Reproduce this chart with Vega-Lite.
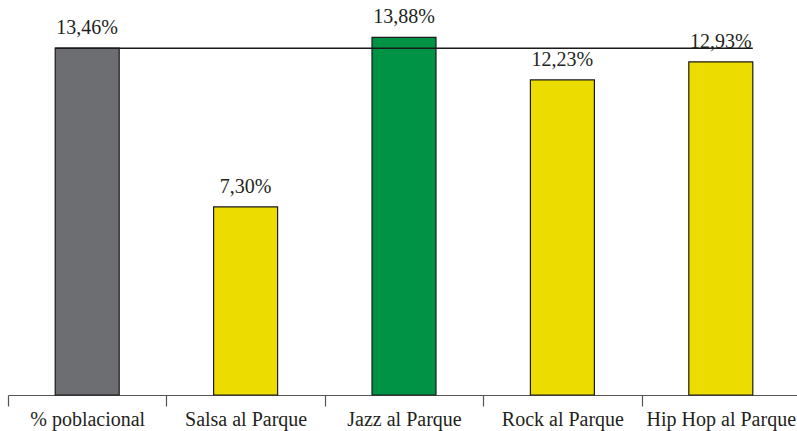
{
  "$schema": "https://vega.github.io/schema/vega-lite/v6.json",
  "width": 789,
  "height": 395,
  "autosize": {"type": "none"},
  "padding": {"left": 8, "top": 0, "right": 0, "bottom": 36},
  "background": "white",
  "config": {"view": {"stroke": null}, "font": "Liberation Serif"},
  "datasets": {
    "bars": [
      {"cat": "% poblacional", "value": 13.46, "label": "13,46%", "group": "pob"},
      {"cat": "Salsa al Parque", "value": 7.30, "label": "7,30%", "group": "other"},
      {"cat": "Jazz al Parque", "value": 13.88, "label": "13,88%", "group": "jazz"},
      {"cat": "Rock al Parque", "value": 12.23, "label": "12,23%", "group": "other"},
      {"cat": "Hip Hop al Parque", "value": 12.93, "label": "12,93%", "group": "other"}
    ],
    "ref": [
      {"start": "% poblacional", "end": "Hip Hop al Parque", "value": 13.46}
    ]
  },
  "layer": [
    {
      "data": {"name": "bars"},
      "mark": {"type": "bar", "width": {"band": 0.404}, "stroke": "#1a1a1a", "strokeWidth": 1.2},
      "encoding": {
        "x": {
          "field": "cat", "type": "nominal", "sort": null,
          "scale": {"domain": ["% poblacional", "Salsa al Parque", "Jazz al Parque", "Rock al Parque", "Hip Hop al Parque"], "paddingInner": 0, "paddingOuter": 0, "range": [0, 792]},
          "axis": {
            "title": null, "labelAngle": 0, "tickBand": "extent",
            "domainColor": "#555555", "tickColor": "#555555", "domainWidth": 1.2, "tickWidth": 1.2,
            "tickSize": 11, "labelPadding": 19, "labelBaseline": "alphabetic",
            "labelFont": "Liberation Serif", "labelFontSize": 20, "labelColor": "#231f20",
            "labelOverlap": false, "labelBound": false, "labelFlush": false
          }
        },
        "y": {
          "field": "value", "type": "quantitative",
          "scale": {"domain": [0, 15.33], "nice": false, "zero": true},
          "axis": null
        },
        "color": {
          "field": "group", "type": "nominal",
          "scale": {"domain": ["pob", "other", "jazz"], "range": ["#6d6e71", "#ecdc00", "#009245"]},
          "legend": null
        }
      }
    },
    {
      "data": {"name": "ref"},
      "mark": {"type": "rule", "color": "#1a1a1a", "strokeWidth": 1.5},
      "encoding": {
        "x": {"field": "start", "type": "nominal", "bandPosition": 0.298},
        "x2": {"field": "end", "bandPosition": 0.702},
        "y": {"field": "value", "type": "quantitative"}
      }
    },
    {
      "data": {"name": "bars"},
      "mark": {"type": "text", "baseline": "alphabetic", "dy": -14, "font": "Liberation Serif", "fontSize": 20, "color": "#231f20"},
      "encoding": {
        "x": {"field": "cat", "type": "nominal", "sort": null},
        "y": {"field": "value", "type": "quantitative"},
        "text": {"field": "label"}
      }
    }
  ]
}
